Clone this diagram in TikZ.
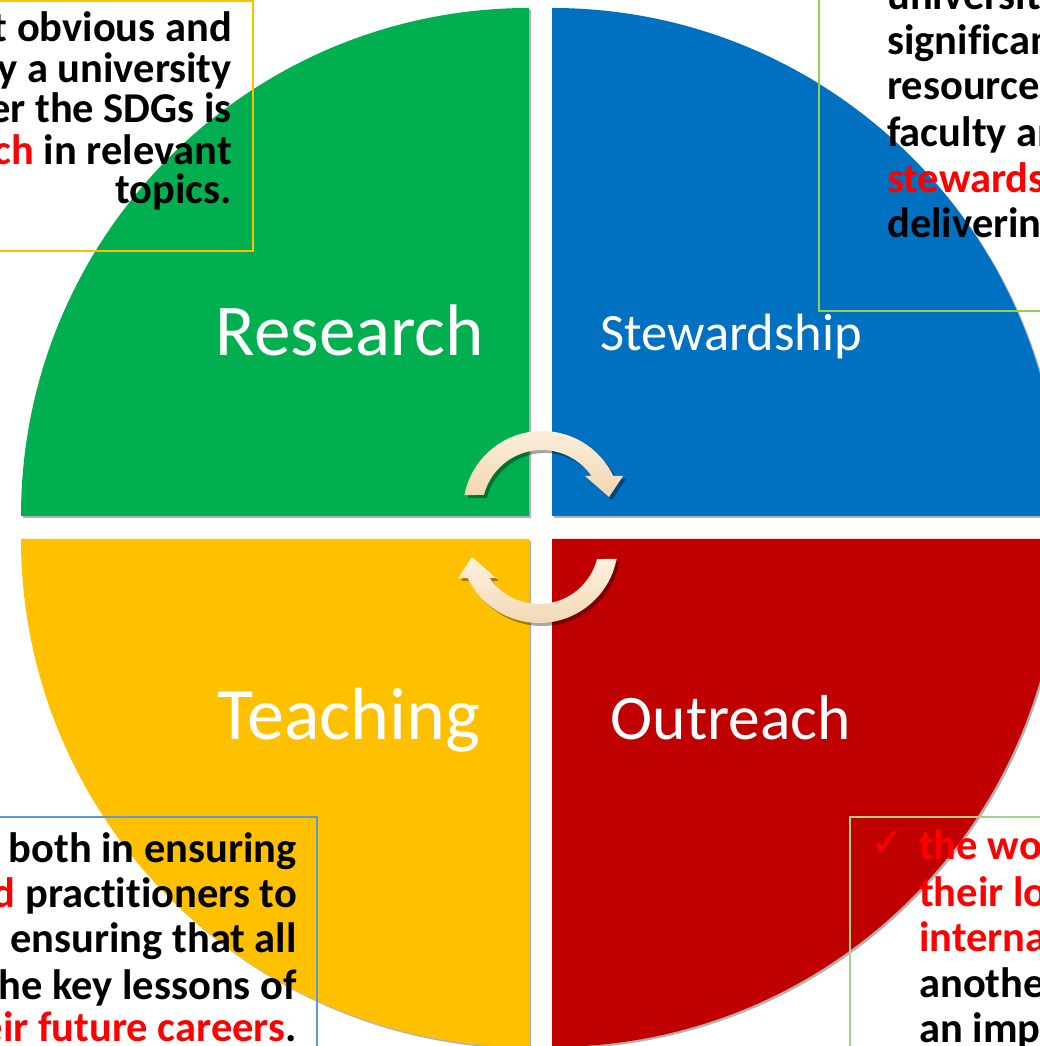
\documentclass[tikz,border=0pt]{standalone}
\usepackage{fontspec}
\setmainfont{Carlito}[Ligatures=NoCommon]
\newfontfamily\symfont{DejaVu Sans}
\usetikzlibrary{shadows}
\definecolor{qgreen}{HTML}{00B050}
\definecolor{qblue}{HTML}{0070C0}
\definecolor{qyellow}{HTML}{FFC000}
\definecolor{qred}{HTML}{C00000}
\definecolor{txtred}{HTML}{FF0000}
\definecolor{bordyel}{HTML}{FFC000}
\definecolor{bordgreen}{HTML}{92D050}
\definecolor{bordblue}{HTML}{5B9BD5}
\definecolor{bordlgreen}{HTML}{A9D18E}
\definecolor{arrowtop}{HTML}{FEF1DF}
\definecolor{arrowbot}{HTML}{F1D6B2}
\begin{document}
\begin{tikzpicture}[x=1pt,y=1pt,
  quad/.style={drop shadow={shadow xshift=2pt,shadow yshift=-2pt,opacity=0.3,fill=black}},
  cyclearrow/.style={drop shadow={shadow xshift=3pt,shadow yshift=-3pt,opacity=0.35,fill=black}},
  qlabel/.style={text=white,inner sep=0pt,anchor=base},
  bodyr/.style={font=\fontsize{42.5}{42.5}\selectfont\bfseries,inner sep=0pt,anchor=base east},
  bodyl/.style={font=\fontsize{42.5}{42.5}\selectfont\bfseries,inner sep=0pt,anchor=base west},
  checkmk/.style={font=\symfont\fontsize{39}{39}\selectfont,inner sep=0pt,anchor=base west},
  boxline/.style={line width=2pt}
]
\useasboundingbox (0,0) rectangle (1040,1046);
\clip (0,0) rectangle (1040,1046);

% quadrants
\path[quad,fill=qgreen] (529,530) -- (21,530) arc[start angle=180,end angle=90,radius=508] -- cycle;
\path[quad,fill=qblue] (552,530) -- (552,1038) arc[start angle=90,end angle=0,radius=508] -- cycle;
\path[quad,fill=qyellow] (529,507) -- (21,507) arc[start angle=180,end angle=270,radius=508] -- cycle;
\path[quad,fill=qred] (552,507) -- (1060,507) arc[start angle=0,end angle=-90,radius=508] -- cycle;

% cycle arrows
\path[cyclearrow,top color=arrowtop,bottom color=arrowbot]
  (464.43,550.94) arc[start angle=169.1,end angle=25.5,radius=79]
  -- (623,570) -- (609,549) -- (585,570) -- (591.44,570)
  arc[start angle=34.5,end angle=165.5,radius=60] -- cycle;
\path[cyclearrow,top color=arrowtop,bottom color=arrowbot]
  (616.57,487.06) arc[start angle=349.1,end angle=205.5,radius=79]
  -- (458,468) -- (472,489) -- (496,468) -- (489.56,468)
  arc[start angle=214.5,end angle=345.5,radius=60] -- cycle;

% quadrant labels
\node[qlabel,font=\fontsize{73}{73}\selectfont] (research) at (350,690) {Research};
\node[qlabel,font=\fontsize{52.5}{52.5}\selectfont] (stewardship) at (731,695) {Stewardship};
\node[qlabel,font=\fontsize{74}{74}\selectfont] (teaching) at (349,306) {Teaching};
\node[qlabel,font=\fontsize{63.5}{63.5}\selectfont] (outreach) at (731,306) {Outreach};

% text boxes
\draw[boxline,draw=bordyel] (-5,795) rectangle (253,1044.5);
\draw[boxline,draw=bordgreen] (819,735) rectangle (1050,1060);
\draw[boxline,draw=bordblue] (-5,-5) rectangle (317,229);
\draw[boxline,draw=bordlgreen] (850,-5) rectangle (1050,229);

% top-left text
\node[bodyr] (tl1) at (232,1004) {t obvious and};
\node[bodyr] (tl2) at (232,963) {\makebox[234pt][s]{y a university}};
\node[bodyr] (tl3) at (232,923) {er the SDGs is};
\node[bodyr] (tl4) at (232,881) {\textcolor{txtred}{ch} in relevant};
\node[bodyr] (tl5) at (232,842) {topics.};

% top-right text
\node[checkmk] (trck) at (840,1042) {✓};
\node[bodyl] (tr1) at (887,1036) {universit};
\node[bodyl] (tr2) at (887,991) {significan};
\node[bodyl] (tr3) at (887,946) {resource};
\node[bodyl] (tr4) at (887,899) {faculty an};
\node[bodyl,text=txtred] (tr5) at (887,853) {stewardsh};
\node[bodyl] (tr6) at (887,808) {deliverin};

% bottom-left text
\node[bodyr] (bl1) at (297,183) {both in ensuring};
\node[bodyr] (bl2) at (297,138) {\textcolor{txtred}{d} practitioners to};
\node[bodyr] (bl3) at (297,93) {ensuring that all};
\node[bodyr] (bl4) at (297,46) {he key lessons of};
\node[bodyr] (bl5) at (297,5) {\textcolor{txtred}{eir future careers}.};

% bottom-right text
\node[checkmk,text=txtred] (brck) at (871,190) {✓};
\node[bodyl,text=txtred] (br1) at (919,186) {the wo};
\node[bodyl,text=txtred] (br2) at (919,139) {their lo};
\node[bodyl,text=txtred] (br3) at (919,94) {interna};
\node[bodyl] (br4) at (919,48) {anothe};
\node[bodyl] (br5) at (919,3) {an imp};
\end{tikzpicture}
\end{document}
